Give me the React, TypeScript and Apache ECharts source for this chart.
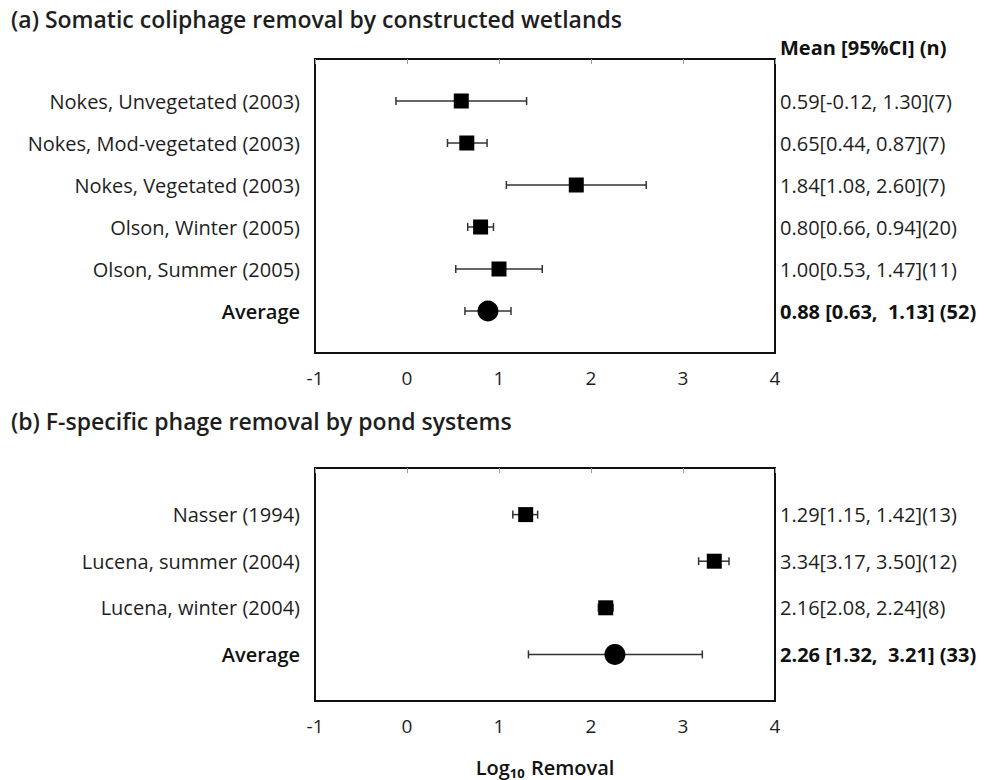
import React, { useEffect, useRef } from "react";
import * as echarts from "echarts";

// Panel (a): somatic coliphage removal by constructed wetlands
const studiesA = [
  "Nokes, Unvegetated (2003)",
  "Nokes, Mod-vegetated (2003)",
  "Nokes, Vegetated (2003)",
  "Olson, Winter (2005)",
  "Olson, Summer (2005)",
  "Average",
];
const meanA = [0.59, 0.65, 1.84, 0.8, 1.0, 0.88];
const lowA = [-0.12, 0.44, 1.08, 0.66, 0.53, 0.63];
const highA = [1.3, 0.87, 2.6, 0.94, 1.47, 1.13];
const countA = [7, 7, 7, 20, 11, 52];

// Panel (b): F-specific phage removal by pond systems
const studiesB = [
  "Nasser (1994)",
  "Lucena, summer (2004)",
  "Lucena, winter (2004)",
  "Average",
];
const meanB = [1.29, 3.34, 2.16, 2.26];
const lowB = [1.15, 3.17, 2.08, 1.32];
const highB = [1.42, 3.5, 2.24, 3.21];
const countB = [13, 12, 8, 33];

const xTicks = [-1, 0, 1, 2, 3, 4];

const FONT = "'Open Sans'";
const TEXT = "#1e1e1e";
const LABEL_SIZE = 20;

function statLabel(i: number, mean: number[], lo: number[], hi: number[], n: number[]) {
  const last = i === mean.length - 1;
  if (last) {
    return `{b|${mean[i].toFixed(2)} [${lo[i].toFixed(2)},  ${hi[i].toFixed(2)}] (${n[i]})}`;
  }
  return `${mean[i].toFixed(2)}[${lo[i].toFixed(2)}, ${hi[i].toFixed(2)}](${n[i]})`;
}

function buildPanel(
  gi: number,
  names: string[],
  mean: number[],
  lo: number[],
  hi: number[],
  n: number[]
) {
  const N = names.length;
  const yBase = {
    type: "value",
    gridIndex: gi,
    min: 0,
    max: N + 1,
    interval: 1,
    inverse: true,
    splitLine: { show: false },
    axisLine: { show: false },
    axisTick: { show: false },
  };
  const yLeft = {
    ...yBase,
    position: "left",
    axisLabel: {
      margin: 15,
      fontFamily: FONT,
      fontSize: LABEL_SIZE,
      color: TEXT,
      rich: { b: { fontFamily: FONT, fontSize: LABEL_SIZE, fontWeight: 600, color: "#111" } },
      formatter: (v: number) => {
        const i = Math.round(v) - 1;
        if (i < 0 || i >= N) return "";
        return i === N - 1 ? `{b|${names[i]}}` : names[i];
      },
    },
  };
  const yRight = {
    ...yBase,
    position: "right",
    axisLabel: {
      margin: 5,
      fontFamily: FONT,
      fontSize: LABEL_SIZE,
      color: TEXT,
      rich: { b: { fontFamily: FONT, fontSize: LABEL_SIZE, fontWeight: 700, color: "#111" } },
      formatter: (v: number) => {
        const i = Math.round(v) - 1;
        if (i < 0 || i >= N) return "";
        return statLabel(i, mean, lo, hi, n);
      },
    },
  };
  const bars = {
    type: "custom",
    xAxisIndex: gi,
    yAxisIndex: gi * 2,
    encode: { x: [0, 1], y: 2 },
    data: names.map((_, i) => [lo[i], hi[i], i + 1]),
    renderItem: (_params: any, api: any) => {
      const a = api.coord([api.value(0), api.value(2)]);
      const b = api.coord([api.value(1), api.value(2)]);
      const style = { stroke: "#333", lineWidth: 1.5 };
      const cap = 4;
      return {
        type: "group",
        children: [
          { type: "line", shape: { x1: a[0], y1: a[1], x2: b[0], y2: b[1] }, style },
          { type: "line", shape: { x1: a[0], y1: a[1] - cap, x2: a[0], y2: a[1] + cap }, style },
          { type: "line", shape: { x1: b[0], y1: b[1] - cap, x2: b[0], y2: b[1] + cap }, style },
        ],
      };
    },
    z: 2,
  };
  const points = {
    type: "scatter",
    xAxisIndex: gi,
    yAxisIndex: gi * 2,
    data: names.map((_, i) => ({
      value: [mean[i], i + 1],
      symbol: i === N - 1 ? "circle" : "rect",
      symbolSize: i === N - 1 ? 21 : 15,
    })),
    itemStyle: { color: "#000", opacity: 1 },
    z: 3,
  };
  return { yLeft, yRight, bars, points };
}

export default function App() {
  const ref = useRef<HTMLDivElement>(null);

  useEffect(() => {
    if (!ref.current) return;
    const chart = echarts.init(ref.current, undefined, { renderer: "svg" });

    const pa = buildPanel(0, studiesA, meanA, lowA, highA, countA);
    const pb = buildPanel(1, studiesB, meanB, lowB, highB, countB);

    const xBase = (gi: number) => ({
      type: "value",
      gridIndex: gi,
      min: xTicks[0],
      max: xTicks[xTicks.length - 1],
      interval: 1,
      splitLine: { show: false },
      axisLine: { show: false },
      axisTick: { show: true, length: 5, lineStyle: { color: "#999", width: 1 } },
      axisLabel: {
        margin: 15,
        fontFamily: FONT,
        fontSize: 19,
        color: TEXT,
      },
    });

    const gridStyle = {
      show: true,
      borderColor: "#111",
      borderWidth: 2,
      backgroundColor: "#fff",
    };

    const titleStyle = { fontFamily: FONT, fontSize: 23, fontWeight: 600, color: TEXT };

    chart.setOption({
      animation: false,
      backgroundColor: "#fff",
      title: [
        {
          text: "(a) Somatic coliphage removal by constructed wetlands",
          left: 6,
          top: 2,
          textStyle: titleStyle,
        },
        {
          text: "(b) F-specific phage removal by pond systems",
          left: 6,
          top: 404,
          textStyle: titleStyle,
        },
      ],
      graphic: [
        {
          type: "text",
          left: 780,
          top: 37,
          style: {
            text: "Mean [95%CI] (n)",
            font: `700 20px ${FONT}`,
            fill: "#111",
          },
        },
      ],
      grid: [
        { left: 315, top: 59, width: 460, height: 294, ...gridStyle },
        { left: 315, top: 468, width: 460, height: 238, ...gridStyle },
      ],
      xAxis: [
        xBase(0),
        {
          ...xBase(1),
          name: "{a|Log}{s|10}{a| Removal}",
          nameLocation: "middle",
          nameGap: 54,
          nameTextStyle: {
            rich: {
              a: { fontFamily: FONT, fontSize: 20, fontWeight: 600, color: "#111", lineHeight: 24 },
              s: {
                fontFamily: FONT,
                fontSize: 13,
                fontWeight: 700,
                color: "#111",
                verticalAlign: "bottom",
                lineHeight: 24,
                padding: [9, 1, 0, 0],
              },
            },
          },
        },
      ],
      yAxis: [pa.yLeft, pa.yRight, pb.yLeft, pb.yRight],
      series: [
        pa.bars,
        pa.points,
        { ...pb.bars, yAxisIndex: 2 },
        { ...pb.points, yAxisIndex: 2 },
      ],
    });

    return () => chart.dispose();
  }, []);

  return (
    <div
      ref={ref}
      style={{ position: "fixed", left: 0, top: 0, width: 1002, height: 780, background: "#fff" }}
    />
  );
}
